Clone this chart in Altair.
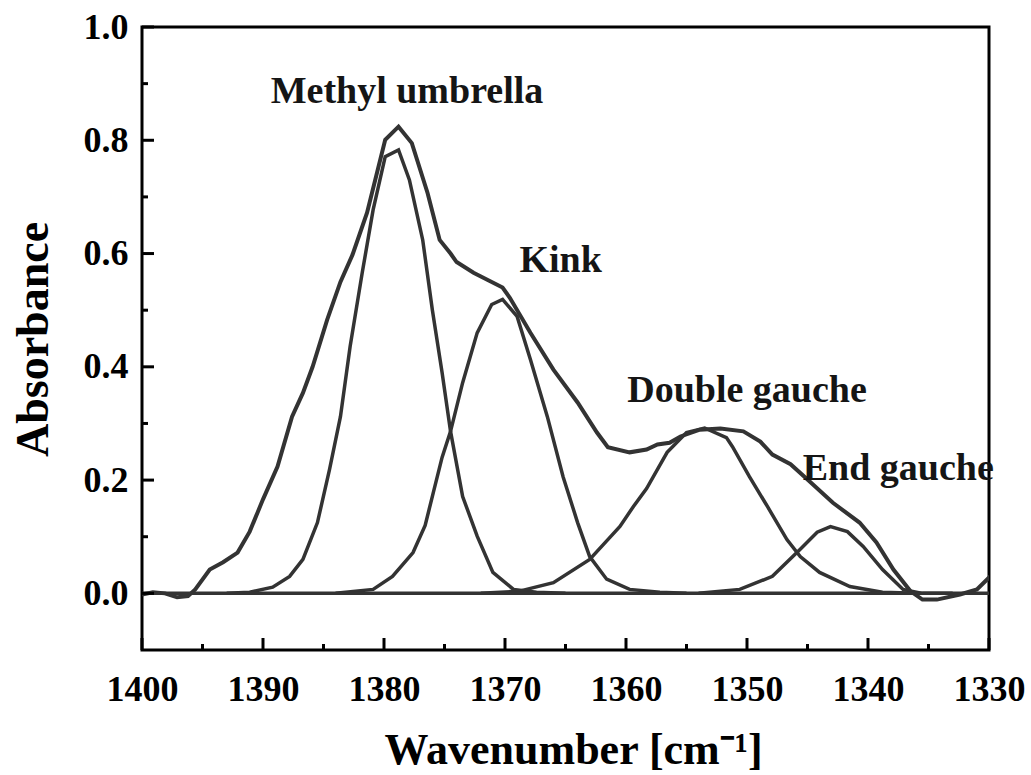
import altair as alt
import pandas as pd

# ---- data ----
total_wn = [1400.0, 1399.1, 1398.1, 1397.1, 1396.2, 1395.6, 1394.4, 1393.3, 1392.1, 1391.1,
            1390.0, 1388.8, 1387.6, 1386.7, 1385.9, 1384.7, 1383.6, 1382.6, 1381.4, 1379.9,
            1378.8, 1377.7, 1376.4, 1375.4, 1374.5, 1374.0, 1372.6, 1370.2, 1369.6, 1367.9,
            1366.0, 1364.0, 1362.4, 1361.5, 1359.7, 1358.3, 1357.4, 1356.4, 1355.5, 1353.9,
            1352.2, 1350.3, 1348.9, 1347.9, 1346.4, 1345.0, 1342.9, 1340.7, 1339.3, 1337.9,
            1336.5, 1335.5, 1334.3, 1332.4, 1331.0, 1329.7]
total_abs = [-0.002, 0.002, 0.000, -0.007, -0.005, 0.007, 0.042, 0.055, 0.072, 0.109,
             0.166, 0.224, 0.312, 0.354, 0.400, 0.483, 0.550, 0.598, 0.672, 0.801,
             0.824, 0.795, 0.707, 0.624, 0.600, 0.585, 0.566, 0.540, 0.522, 0.460,
             0.395, 0.337, 0.284, 0.258, 0.249, 0.254, 0.263, 0.266, 0.277, 0.289,
             0.291, 0.286, 0.268, 0.245, 0.228, 0.201, 0.160, 0.125, 0.090, 0.042,
             0.004, -0.011, -0.011, -0.002, 0.007, 0.034]

methyl_wn = [1393.0, 1391.1, 1389.2, 1387.8, 1386.7, 1385.5, 1384.5, 1383.6, 1382.8, 1381.8,
             1380.9, 1379.9, 1378.8, 1377.9, 1376.8, 1376.0, 1375.2, 1374.5, 1373.5, 1372.3,
             1371.0, 1369.3, 1367.4, 1365.0]
methyl_abs = [0.000, 0.002, 0.011, 0.030, 0.060, 0.125, 0.219, 0.312, 0.436, 0.566,
              0.677, 0.771, 0.783, 0.730, 0.624, 0.500, 0.390, 0.286, 0.171, 0.101,
              0.037, 0.007, 0.002, 0.000]

kink_wn = [1384.0, 1380.9, 1379.3, 1377.6, 1376.6, 1375.9, 1375.2, 1374.5, 1373.5, 1372.3,
           1371.1, 1370.2, 1369.0, 1367.9, 1366.5, 1365.2, 1364.0, 1363.0, 1361.6, 1359.7,
           1357.2, 1355.0]
kink_abs = [0.000, 0.007, 0.030, 0.072, 0.120, 0.180, 0.240, 0.286, 0.372, 0.460,
            0.510, 0.519, 0.489, 0.413, 0.312, 0.206, 0.125, 0.065, 0.025, 0.007,
            0.002, 0.000]

dgauche_wn = [1372.0, 1368.8, 1366.0, 1363.0, 1361.5, 1360.5, 1359.4, 1358.3, 1356.6, 1355.0,
              1353.5, 1351.7, 1351.2, 1349.8, 1348.3, 1346.7, 1345.6, 1344.0, 1341.5, 1338.8,
              1336.0]
dgauche_abs = [0.000, 0.004, 0.019, 0.060, 0.095, 0.118, 0.153, 0.185, 0.249, 0.284,
               0.292, 0.275, 0.259, 0.206, 0.153, 0.095, 0.065, 0.037, 0.012, 0.002,
               0.000]

egauche_wn = [1354.0, 1350.6, 1347.9, 1345.6, 1344.2, 1343.1, 1341.7, 1340.4, 1338.8, 1337.1,
              1335.5, 1333.0]
egauche_abs = [0.000, 0.007, 0.030, 0.078, 0.108, 0.118, 0.109, 0.083, 0.042, 0.007,
               0.000, 0.000]

label_text = ["Methyl umbrella", "Kink", "Double gauche", "End gauche"]
label_wn = [1378.1, 1365.4, 1350.0, 1337.5]
label_abs = [0.866, 0.568, 0.337, 0.201]

x_major = [1400, 1390, 1380, 1370, 1360, 1350, 1340, 1330]
x_minor = [1395, 1385, 1375, 1365, 1355, 1345, 1335]
y_major = [0.0, 0.2, 0.4, 0.6, 0.8, 1.0]
y_minor = [0.1, 0.3, 0.5, 0.7, 0.9]

# ---- tables ----
comp_rows = []
for name, wn, ab in [("Methyl umbrella", methyl_wn, methyl_abs), ("Kink", kink_wn, kink_abs),
                     ("Double gauche", dgauche_wn, dgauche_abs), ("End gauche", egauche_wn, egauche_abs)]:
    for w, a in zip(wn, ab):
        comp_rows.append({"series": name, "wn": w, "abs": a})
comp_df = pd.DataFrame(comp_rows)
total_df = pd.DataFrame({"wn": total_wn, "abs": total_abs})
label_df = pd.DataFrame({"text": label_text, "wn": label_wn, "abs": label_abs})

W, H = 847, 623
FONT = "Liberation Serif"
CURVE = "#333333"

xs = alt.Scale(domain=[1330, 1400], reverse=True, nice=False, zero=False)
ys = alt.Scale(domain=[-0.1, 1.0], nice=False, zero=False)

x_axis = alt.Axis(values=x_major, format="d", grid=False, ticks=False, tickSize=0, domain=False,
                  labelFont=FONT, labelFontWeight="bold", labelFontSize=36, labelColor="black",
                  labelPadding=22, labelFlush=False, labelOverlap=False,
                  title="Wavenumber [cm⁻¹]", titleFont=FONT, titleFontWeight="bold",
                  titleFontSize=44, titleColor="black", titleBaseline="alphabetic",
                  titleAlign="center", titleX=431, titleY=113)
y_axis = alt.Axis(values=y_major, format=".1f", grid=False, ticks=False, tickSize=0, domain=False,
                  labelFont=FONT, labelFontWeight="bold", labelFontSize=36, labelColor="black",
                  labelPadding=14, labelFlush=False, labelOverlap=False,
                  title="Absorbance", titleFont=FONT, titleFontWeight="bold",
                  titleFontSize=46, titleColor="black", titleAngle=-90,
                  titleBaseline="alphabetic", titleAlign="center", titleX=-95, titleY=312)


def X(field):
    return alt.X(field, scale=xs, axis=x_axis)


def Y(field):
    return alt.Y(field, scale=ys, axis=y_axis)


total_line = alt.Chart(total_df).mark_line(color=CURVE, strokeWidth=4, clip=True).encode(
    x=X("wn:Q"), y=Y("abs:Q"),
)

comp_lines = alt.Chart(comp_df).mark_line(color=CURVE, strokeWidth=3.5, clip=True).encode(
    x=X("wn:Q"), y=Y("abs:Q"), detail="series:N",
)

zero_line = alt.Chart(pd.DataFrame({"abs": [0.0]})).mark_rule(color=CURVE, strokeWidth=3.5).encode(
    y=Y("abs:Q"), x=alt.value(0), x2=alt.value(W),
)

xmaj = alt.Chart(pd.DataFrame({"wn": x_major})).mark_rule(color="black", strokeWidth=3).encode(
    x=X("wn:Q"), y=alt.value(H), y2=alt.value(H - 12))
xmin = alt.Chart(pd.DataFrame({"wn": x_minor})).mark_rule(color="black", strokeWidth=3).encode(
    x=X("wn:Q"), y=alt.value(H), y2=alt.value(H - 6))
ymaj = alt.Chart(pd.DataFrame({"abs": y_major})).mark_rule(color="black", strokeWidth=3).encode(
    y=Y("abs:Q"), x=alt.value(0), x2=alt.value(12))
ymin = alt.Chart(pd.DataFrame({"abs": y_minor})).mark_rule(color="black", strokeWidth=3).encode(
    y=Y("abs:Q"), x=alt.value(0), x2=alt.value(6))

labels = alt.Chart(label_df).mark_text(font=FONT, fontWeight="bold", fontSize=38,
                                       align="center", baseline="alphabetic", color="#151515").encode(
    x=X("wn:Q"), y=Y("abs:Q"), text="text:N",
)

chart = alt.layer(total_line, comp_lines, zero_line, xmaj, xmin, ymaj, ymin, labels).properties(
    width=W, height=H,
    padding={"left": 142, "top": 27, "right": 42, "bottom": 125},
    autosize=alt.AutoSizeParams(type="none"),
    background="white",
).configure_view(stroke="black", strokeWidth=3)

chart.save("out.html", embed_options={"renderer": "svg", "actions": False})
